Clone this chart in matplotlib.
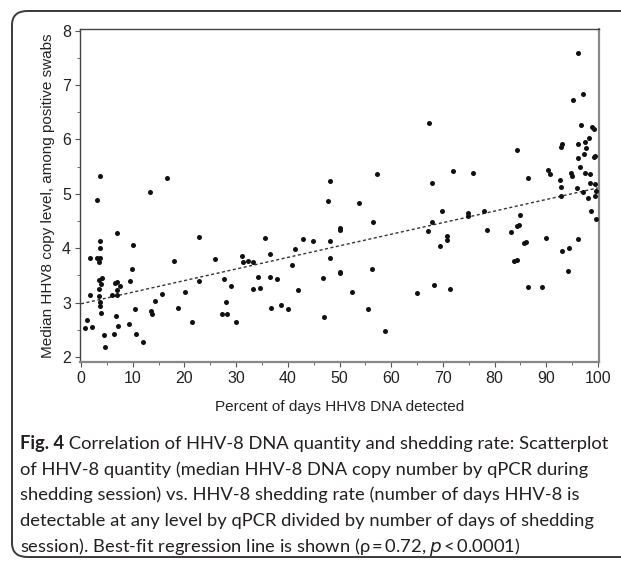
import numpy as np
import matplotlib.pyplot as plt
from matplotlib.patches import FancyBboxPatch

# percent of days HHV8 detected vs median copy level
pct = [13.3, 3.0, 3.6, 16.7, 7.0, 3.7, 3.7, 10.1, 22.9, 1.8, 3.1, 3.7, 3.5, 17.9,
       25.9, 31.1, 31.3, 32.3, 33.3, 9.8, 4.0, 3.5, 3.8, 3.5, 6.6, 7.0, 7.5, 7.0,
       7.0, 6.0, 9.5, 1.8, 3.5, 3.6, 3.7, 3.8, 22.8, 27.6, 29.1, 15.7, 20.1, 14.3,
       28.0, 10.4, 18.8, 13.5, 13.8, 27.3, 28.2, 6.7, 1.2, 21.5, 30.0, 0.8, 2.2,
       7.2, 9.2, 4.4, 6.3, 10.6, 4.6, 11.9, 33.3,
       47.8, 53.8, 56.5, 50.0, 50.0, 35.5, 42.9, 44.8, 48.2, 41.3, 36.6, 48.2,
       40.8, 50.0, 50.0, 56.2, 34.2, 36.6, 37.9, 46.8, 34.6, 42.0, 52.5, 64.9,
       36.8, 38.7, 40.0, 55.5, 47.0, 58.8, 48.2, 57.3, 67.4,
       67.8, 67.2, 69.8, 67.8, 74.9, 74.9, 77.9, 78.6, 70.8, 70.7, 69.5, 68.3,
       71.3, 84.9, 84.4, 84.7, 83.2, 85.7, 86.1, 83.8, 84.4, 86.5, 89.2, 89.9,
       71.9, 75.8, 84.4, 86.5,
       92.8, 93.1, 94.4, 94.2, 96.1, 97.2, 98.1, 99.5, 99.6, 98.6, 99.6, 96.1,
       97.2, 95.1, 96.8, 98.8, 99.2, 98.3, 97.5, 96.1, 97.6, 93.1, 92.9, 97.3,
       96.2, 99.2, 99.5, 96.6, 90.4, 90.7, 92.6, 92.8, 94.8, 95.0, 97.5, 98.5,
       96.0, 98.5, 99.5]
copies = [5.04, 4.89, 5.33, 5.30, 4.29, 4.14, 4.00, 4.06, 4.21, 3.82, 3.82, 3.82,
          3.74, 3.77, 3.81, 3.86, 3.74, 3.77, 3.75, 3.62, 3.46, 3.41, 3.34, 3.26,
          3.36, 3.38, 3.31, 3.23, 3.14, 3.15, 3.40, 3.15, 3.13, 3.02, 2.94, 2.81,
          3.39, 3.44, 3.31, 3.16, 3.19, 3.03, 3.01, 2.89, 2.91, 2.85, 2.80, 2.79,
          2.80, 2.75, 2.68, 2.65, 2.65, 2.53, 2.56, 2.57, 2.61, 2.41, 2.42, 2.42,
          2.18, 2.28, 3.25,
          4.86, 4.83, 4.48, 4.38, 4.34, 4.18, 4.17, 4.13, 4.13, 3.98, 3.90, 3.83,
          3.69, 3.57, 3.55, 3.62, 3.47, 3.48, 3.43, 3.46, 3.27, 3.24, 3.20, 3.18,
          2.90, 2.96, 2.89, 2.88, 2.74, 2.48, 5.24, 5.36, 6.30,
          5.20, 4.32, 4.69, 4.49, 4.64, 4.60, 4.69, 4.34, 4.22, 4.15, 4.04, 3.33,
          3.25, 4.62, 4.41, 4.43, 4.30, 4.10, 4.11, 3.76, 3.78, 3.29, 3.28, 4.19,
          5.42, 5.38, 5.81, 5.30,
          4.97, 3.95, 4.01, 3.58, 4.17, 5.04, 4.92, 4.96, 5.05, 4.69, 4.54, 7.59,
          6.84, 6.72, 6.27, 6.22, 6.19, 6.02, 5.96, 5.92, 5.85, 5.92, 5.87, 5.74,
          5.66, 5.67, 5.69, 5.50, 5.43, 5.37, 5.26, 5.12, 5.38, 5.33, 5.38, 5.36,
          5.10, 5.20, 5.18]

# regression line as drawn
fit_intercept = 2.98
fit_slope = 0.0213
fit_x = [0, 100]

xticks = list(range(0, 101, 10))
yticks = [2, 3, 4, 5, 6, 7, 8]

caption_lines = [
    'Correlation of HHV-8 DNA quantity and shedding rate: Scatterplot',
    'of HHV-8 quantity (median HHV-8 DNA copy number by qPCR during',
    'shedding session) vs. HHV-8 shedding rate (number of days HHV-8 is',
    'detectable at any level by qPCR divided by number of days of shedding',
    'session). Best-fit regression line is shown (\u03c1\u2009=\u20090.72, $p$\u2009<\u20090.0001)',
]

W, H = 621, 563
fig = plt.figure(figsize=(W / 100, H / 100), dpi=100)
plt.rcParams['font.family'] = ['Liberation Sans', 'DejaVu Sans']

# outer rounded frame (right side runs off the picture)
frame = FancyBboxPatch((12 / W, 1 - 557 / H), (680 - 12) / W, (557 - 11) / H,
                       boxstyle='round,pad=0,rounding_size=0.025',
                       transform=fig.transFigure, fill=False,
                       ec='#3a3a3a', lw=1.4, clip_on=False)
fig.patches.append(frame)

ax = fig.add_axes([80 / W, 1 - 362 / H, 519 / W, 333 / H])
ax.scatter(pct, copies, s=13, c='#111111', linewidths=0, zorder=3)
fx = np.array(fit_x)
ax.plot(fx, fit_intercept + fit_slope * fx, color='#333333', lw=1.0,
        linestyle=(0, (2.2, 1.8)), zorder=2)

ax.set_xlim(-0.2, 100.2)
ax.set_ylim(1.91, 8.03)
ax.set_xticks(xticks)
ax.set_yticks(yticks)
ax.set_xticks(np.arange(5, 100, 10), minor=True)
ax.set_yticks(np.arange(2.5, 8, 1), minor=True)
ax.tick_params(which='both', direction='out', color='#555555', labelsize=11.5,
               labelcolor='#222222')
ax.tick_params(which='major', length=3.5, width=0.8, pad=3)
ax.tick_params(which='minor', length=2, width=0.6)
for s in ['left', 'top']:
    ax.spines[s].set_color('#444444')
    ax.spines[s].set_linewidth(1.0)
for s in ['right', 'bottom']:
    ax.spines[s].set_color('#888888')
    ax.spines[s].set_linewidth(1.6)

ax.set_xlabel('Percent of days HHV8 DNA detected', fontsize=11, color='#222222',
              labelpad=10)
ax.set_ylabel('Median HHV8 copy level, among positive swabs', fontsize=11,
              color='#222222', labelpad=5)

# caption
cap_font = ['Lato', 'DejaVu Sans']
cap_size = 13.2
cap_y = [449, 475, 500, 526, 552]
bold = fig.text(20 / W, 1 - cap_y[0] / H, 'Fig. 4', fontsize=cap_size,
                fontweight='bold', family=cap_font, color='#231f20', va='baseline')
fig.canvas.draw()
ax.annotate(' ' + caption_lines[0], xy=(1, 1 - cap_y[0] / H),
            xycoords=(bold, 'figure fraction'), fontsize=cap_size, family=cap_font,
            color='#231f20', va='baseline', annotation_clip=False)
for line, yy in zip(caption_lines[1:], cap_y[1:]):
    fig.text(20 / W, 1 - yy / H, line, fontsize=cap_size, family=cap_font,
             color='#231f20', va='baseline')

fig.savefig('out.png', dpi=100)
